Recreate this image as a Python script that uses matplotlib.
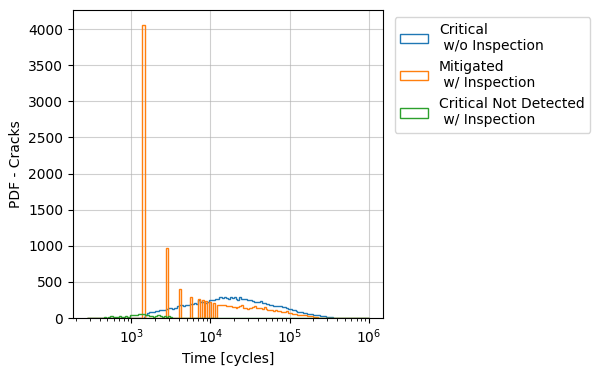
import numpy as np
import matplotlib
matplotlib.use("Agg")
import matplotlib.pyplot as plt

# ---- data ----
log_min, log_max, n_bins = 2.444, 6.0, 150

critical_wo = ([0] * 30 + [
    20, 45, 65, 80, 85, 90, 98, 100, 105, 108,
    110, 112, 128, 135, 132, 128, 138, 135, 170, 175,
    178, 172, 176, 180, 182, 200, 195, 205, 200, 255,
    226, 225, 212, 212, 215, 249, 250, 245, 267, 265,
    290, 285, 272, 290, 280, 262, 285, 275, 290, 260,
    250, 285, 270, 262, 268, 245, 255, 250, 235, 225,
    215, 222, 230, 205, 210, 190, 195, 180, 185, 165,
    165, 172, 160, 160, 150, 148, 140, 130, 128, 110,
    105, 95, 90, 85, 80, 72, 68, 60, 55, 50,
    48, 45, 38, 35, 32, 28, 25, 20, 15, 12,
    8, 5, 4, 3, 2, 1] + [0] * 14)

mitigated_w = ([0] * 29 + [4060, 4060] + [0] * 11 + [970] + [0] * 6 + [395] + [0] * 5 +
               [285, 0, 0, 0, 260, 0, 245, 0, 238, 0, 226, 0, 212, 0] + [
    182, 178, 180, 175, 178, 172, 165, 160, 150, 155,
    145, 150, 160, 185, 145, 135, 130, 145, 135, 155,
    165, 140, 135, 138, 130, 150, 120, 112, 105, 108,
    100, 105, 98, 100, 90, 82, 78, 95, 72, 70,
    60, 55, 52, 48, 45, 40, 38, 35, 30, 28,
    25, 20, 15, 10, 6, 4, 3, 2, 1] + [0] * 22)

critical_not_detected = ([
    3, 4, 5, 4, 6, 5, 4, 6, 5, 7,
    6, 8, 28, 28, 12, 15, 10, 22, 20, 18,
    22, 15, 20, 36, 40, 38, 45, 50, 55, 53,
    52, 41, 40, 22, 25, 20, 22, 36, 35, 22,
    20, 25, 18, 28, 10] + [0] * 105)

labels = ["Critical\n w/o Inspection",
          "Mitigated\n w/ Inspection",
          "Critical Not Detected\n w/ Inspection"]
colors = ["#1f77b4", "#ff7f0e", "#2ca02c"]

edges = np.logspace(log_min, log_max, n_bins + 1)
centers = np.sqrt(edges[:-1] * edges[1:])

fig = plt.figure(figsize=(6.04, 3.75), dpi=100)
ax = fig.add_axes([0.121, 0.152, 0.513, 0.821])

for vals, lab, col in zip([critical_wo, mitigated_w, critical_not_detected], labels, colors):
    ax.hist(centers, bins=edges, weights=vals, histtype="step",
            color=col, linewidth=1.0, label=lab)

ax.set_xscale("log")
ax.set_yticks(np.arange(0, 4001, 500))
ax.grid(True, which="major", color="#b0b0b0", alpha=0.6, linewidth=0.8)
ax.set_axisbelow(True)
ax.set_xlabel("Time [cycles]")
ax.set_ylabel("PDF - Cracks")
ax.legend(loc="upper left", bbox_to_anchor=(1.015, 1.0))

fig.savefig("out.png", dpi=100)
